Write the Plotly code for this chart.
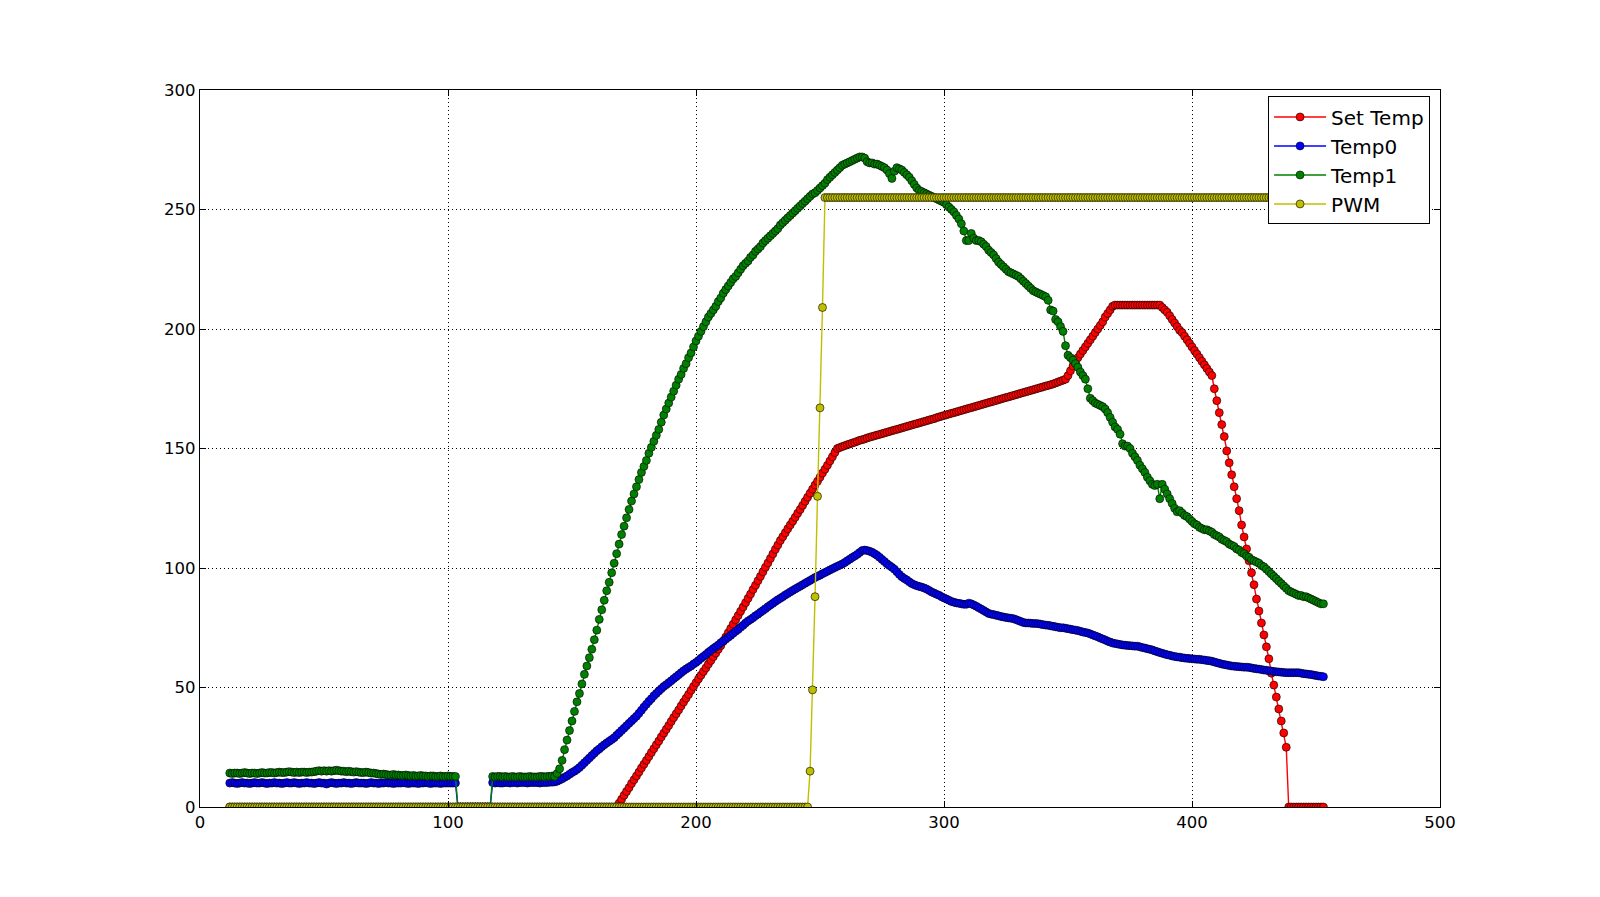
import plotly.graph_objects as go

# ---------------- data ----------------
TIME = list(range(12, 454))  # sample times 12..453

# Set Temp
set_zero_a = [0.0] * 156            # 12..167
set_ramp = [                        # 168..257
    0.0, 1.6, 3.2, 4.9, 6.5, 8.1, 9.8, 11.4, 13.0, 14.6,
    16.3, 17.9, 19.5, 21.1, 22.8, 24.4, 26.0, 27.6, 29.3, 30.9,
    32.5, 34.1, 35.8, 37.4, 39.0, 40.6, 42.3, 43.9, 45.5, 47.1,
    48.8, 50.4, 52.0, 53.6, 55.1, 56.7, 58.2, 59.8, 61.3, 62.9,
    64.4, 66.0, 67.5, 69.3, 71.1, 72.9, 74.7, 76.5, 78.3, 80.1,
    81.9, 83.7, 85.5, 87.3, 89.1, 91.0, 92.8, 94.7, 96.5, 98.4,
    100.3, 102.1, 104.0, 105.9, 107.8, 109.6, 111.5, 113.1, 114.7, 116.4,
    118.0, 119.6, 121.2, 122.9, 124.5, 126.2, 127.9, 129.6, 131.3, 133.0,
    134.7, 136.3, 138.0, 139.7, 141.3, 143.0, 144.8, 146.5, 148.3, 150.0,
]
set_slow = [                        # 258..348
    150.4, 150.8, 151.2, 151.6, 151.9, 152.3, 152.6, 153.0, 153.4, 153.7,
    154.0, 154.4, 154.7, 155.0, 155.3, 155.6, 155.9, 156.2, 156.5, 156.8,
    157.1, 157.4, 157.7, 158.0, 158.3, 158.6, 158.9, 159.2, 159.5, 159.8,
    160.1, 160.4, 160.7, 161.0, 161.3, 161.6, 161.9, 162.2, 162.5, 162.9,
    163.2, 163.5, 163.8, 164.1, 164.4, 164.7, 165.0, 165.3, 165.6, 165.9,
    166.2, 166.5, 166.8, 167.1, 167.4, 167.7, 168.0, 168.3, 168.6, 168.9,
    169.2, 169.5, 169.8, 170.1, 170.4, 170.7, 171.0, 171.3, 171.6, 171.9,
    172.2, 172.5, 172.8, 173.1, 173.4, 173.7, 174.0, 174.3, 174.6, 174.9,
    175.2, 175.5, 175.8, 176.1, 176.4, 176.7, 177.0, 177.4, 177.8, 178.2,
    178.6,
]
set_rise2 = [                       # 349..368
    179.0, 180.5, 182.5, 184.5, 186.0, 188.0, 189.5, 191.0, 192.5, 194.0,
    195.5, 197.0, 198.5, 200.0, 201.5, 203.0, 205.0, 206.5, 208.0, 209.5,
]
set_hold = [210.0] * 19             # 369..387
set_fall1 = [                       # 388..408
    209.0, 208.0, 207.0, 205.5, 204.0, 202.5, 201.0, 199.5, 198.5, 197.0,
    195.5, 194.0, 192.5, 191.0, 189.5, 188.0, 186.5, 185.0, 183.5, 182.0,
    180.5,
]
set_fall2 = [                       # 409..438
    175.0, 170.0, 165.0, 160.0, 155.0, 149.0, 144.0, 139.0, 134.0, 129.0,
    124.0, 118.0, 113.0, 108.0, 103.0, 98.0, 93.0, 87.0, 82.0, 77.0,
    72.0, 67.0, 62.0, 56.0, 51.0, 46.0, 41.0, 36.0, 31.0, 25.0,
]
set_zero_b = [0.0] * 15             # 439..453
SET_TEMP = set_zero_a + set_ramp + set_slow + set_rise2 + set_hold + set_fall1 + set_fall2 + set_zero_b

# Temp0
t0_a = [                            # 12..103
    10.0, 10.2, 10.0, 9.8, 10.0, 10.2, 10.0, 10.0, 9.8, 10.0,
    10.2, 10.0, 10.0, 10.2, 10.0, 9.8, 10.0, 10.0, 10.2, 10.0,
    10.0, 9.8, 10.0, 10.2, 10.0, 10.0, 10.2, 10.0, 9.8, 10.0,
    10.0, 10.2, 10.0, 10.0, 9.8, 10.0, 10.2, 10.0, 10.0, 9.6,
    10.0, 10.2, 10.0, 9.8, 10.0, 10.0, 10.2, 10.0, 10.0, 9.8,
    10.0, 10.2, 10.0, 10.0, 10.0, 9.8, 10.0, 10.2, 10.0, 10.0,
    9.8, 10.0, 10.0, 10.2, 10.0, 10.0, 9.8, 10.0, 10.0, 10.0,
    10.2, 10.0, 9.8, 10.0, 10.0, 10.0, 9.8, 10.0, 10.0, 10.2,
    10.0, 9.8, 10.0, 10.0, 10.0, 9.8, 10.0, 10.0, 10.0, 10.0,
    10.0, 10.0,
]
t0_gap = [0.0] * 14                 # 104..117
t0_b = [                            # 118..142
    10.2, 10.0, 10.2, 10.0, 10.0, 10.2, 10.2, 10.0, 10.2, 10.2,
    10.0, 10.2, 10.2, 10.2, 10.0, 10.2, 10.2, 10.2, 10.2, 10.0,
    10.2, 10.2, 10.2, 10.4, 10.4,
]
t0_c = [                            # 143..453
    10.5, 10.8, 11.3, 11.8, 12.4, 13.0, 13.7, 14.4, 15.0, 15.7,
    16.5, 17.5, 18.5, 19.5, 20.5, 21.5, 22.5, 23.5, 24.3, 25.2,
    26.0, 26.8, 27.5, 28.2, 29.0, 30.0, 31.0, 32.0, 33.0, 34.0,
    35.0, 36.0, 37.0, 38.0, 39.2, 40.5, 41.8, 43.0, 44.2, 45.3,
    46.5, 47.5, 48.5, 49.5, 50.4, 51.2, 52.0, 52.8, 53.7, 54.5,
    55.3, 56.2, 57.0, 57.7, 58.4, 59.0, 59.8, 60.5, 61.3, 62.2,
    63.0, 63.8, 64.7, 65.5, 66.3, 67.0, 67.8, 68.7, 69.5, 70.2,
    71.0, 71.8, 72.7, 73.5, 74.3, 75.2, 76.0, 77.0, 77.8, 78.5,
    79.2, 80.0, 80.7, 81.5, 82.2, 83.0, 83.8, 84.5, 85.2, 86.0,
    86.7, 87.3, 88.0, 88.7, 89.3, 90.0, 90.6, 91.2, 91.8, 92.4,
    93.0, 93.6, 94.2, 94.8, 95.4, 96.0, 96.5, 97.0, 97.6, 98.1,
    98.6, 99.2, 99.7, 100.2, 100.7, 101.2, 101.7, 102.3, 103.0, 103.7,
    104.4, 105.0, 105.7, 106.5, 107.3, 107.5, 107.3, 107.0, 106.6, 106.0,
    105.3, 104.5, 103.6, 102.7, 101.8, 101.0, 100.3, 99.5, 98.4, 97.3,
    96.3, 95.6, 95.0, 94.2, 93.5, 93.0, 92.6, 92.3, 92.0, 91.6,
    91.2, 90.6, 90.0, 89.5, 89.0, 88.6, 88.0, 87.5, 87.0, 86.5,
    86.0, 85.7, 85.4, 85.2, 85.0, 84.8, 84.8, 85.3, 85.0, 84.5,
    84.0, 83.4, 82.8, 82.2, 81.6, 81.0, 80.7, 80.5, 80.2, 80.0,
    79.7, 79.5, 79.3, 79.1, 79.0, 78.8, 78.4, 78.0, 77.6, 77.2,
    77.0, 77.0, 76.9, 76.8, 76.8, 76.7, 76.5, 76.3, 76.1, 76.0,
    75.8, 75.6, 75.4, 75.2, 75.0, 75.0, 74.8, 74.6, 74.4, 74.2,
    74.0, 73.8, 73.5, 73.2, 73.0, 72.8, 72.4, 72.0, 71.6, 71.2,
    70.7, 70.3, 69.9, 69.4, 69.0, 68.6, 68.4, 68.2, 68.0, 67.8,
    67.7, 67.6, 67.5, 67.4, 67.3, 67.3, 67.0, 66.7, 66.5, 66.2,
    66.0, 65.7, 65.3, 65.0, 64.6, 64.3, 64.0, 63.7, 63.5, 63.2,
    63.0, 62.8, 62.7, 62.5, 62.3, 62.2, 62.1, 62.0, 61.9, 61.8,
    61.8, 61.6, 61.5, 61.3, 61.2, 61.0, 60.7, 60.4, 60.1, 59.8,
    59.6, 59.4, 59.2, 59.0, 58.9, 58.8, 58.7, 58.6, 58.5, 58.5,
    58.4, 58.2, 58.0, 57.8, 57.7, 57.5, 57.3, 57.2, 57.0, 56.9,
    56.7, 56.6, 56.5, 56.4, 56.3, 56.2, 56.2, 56.2, 56.2, 56.2,
    56.2, 56.0, 55.8, 55.7, 55.5, 55.4, 55.2, 55.0, 54.8, 54.7,
    54.5,
]
TEMP0 = t0_a + t0_gap + t0_b + t0_c

# Temp1
t1_a = [                            # 12..103
    14.2, 14.0, 14.2, 14.2, 14.0, 14.2, 14.4, 14.2, 14.0, 14.2,
    14.2, 14.0, 14.2, 14.4, 14.2, 14.2, 14.4, 14.4, 14.2, 14.4,
    14.6, 14.4, 14.4, 14.6, 14.8, 14.6, 14.4, 14.6, 14.4, 14.6,
    14.6, 14.4, 14.6, 14.6, 14.8, 15.0, 15.2, 15.0, 15.2, 15.0,
    15.2, 15.0, 15.2, 15.4, 15.2, 15.0, 15.0, 14.8, 15.0, 14.8,
    14.6, 14.8, 14.6, 14.4, 14.4, 14.6, 14.4, 14.2, 14.2, 14.0,
    13.8, 13.6, 13.8, 13.6, 13.4, 13.4, 13.6, 13.4, 13.4, 13.2,
    13.2, 13.4, 13.2, 13.0, 13.2, 13.0, 13.0, 13.2, 13.0, 13.0,
    12.8, 13.0, 13.0, 12.8, 12.8, 13.0, 12.8, 12.8, 13.0, 12.8,
    12.8, 12.8,
]
t1_gap = [0.0] * 14                 # 104..117
t1_b = [                            # 118..142
    12.8, 12.6, 12.8, 12.8, 12.6, 12.8, 12.6, 12.6, 12.8, 12.6,
    12.6, 12.8, 12.6, 12.6, 12.6, 12.8, 12.6, 12.6, 12.6, 12.8,
    12.8, 12.6, 12.8, 12.8, 13.0,
]
t1_c = [                            # 143..453
    12.8, 14.0, 16.0, 19.5, 24.0, 28.0, 32.0, 36.0, 40.0, 44.0,
    47.5, 51.5, 55.5, 59.0, 62.5, 66.0, 70.0, 74.0, 78.5, 82.5,
    86.5, 90.5, 94.0, 98.0, 102.0, 106.0, 110.0, 114.0, 117.5, 121.0,
    124.5, 128.0, 131.0, 134.0, 137.0, 140.0, 142.5, 145.0, 148.0, 150.5,
    153.0, 155.5, 158.0, 161.0, 164.0, 166.5, 169.0, 171.5, 174.0, 176.5,
    179.0, 181.0, 183.5, 185.5, 188.0, 190.0, 192.5, 195.0, 197.0, 199.0,
    201.0, 203.0, 205.0, 206.5, 208.0, 209.5, 211.5, 213.0, 215.0, 216.5,
    218.0, 219.5, 221.0, 222.0, 223.5, 225.0, 226.5, 227.5, 228.5, 230.0,
    231.0, 232.5, 233.5, 234.5, 236.0, 237.0, 238.0, 239.0, 240.0, 241.0,
    242.0, 243.5, 244.5, 245.5, 246.5, 247.5, 248.5, 249.5, 250.5, 251.5,
    252.5, 253.5, 254.5, 255.5, 256.5, 257.0, 258.0, 259.0, 260.0, 261.0,
    262.5, 263.5, 264.5, 265.5, 266.5, 267.5, 268.5, 269.0, 269.5, 270.0,
    270.5, 271.0, 271.5, 272.0, 272.0, 271.5, 270.0, 269.5, 269.5, 269.0,
    269.0, 268.5, 268.0, 267.5, 266.5, 265.0, 263.0, 266.0, 267.5, 267.0,
    266.5, 265.5, 264.5, 263.5, 262.0, 260.5, 259.0, 258.0, 257.5, 257.0,
    256.5, 256.0, 255.5, 255.0, 254.5, 254.0, 253.5, 253.0, 252.0, 251.0,
    250.0, 249.0, 247.5, 246.0, 244.0, 241.0, 237.0, 237.0, 240.0, 238.0,
    237.0, 237.0, 236.5, 235.5, 234.5, 233.0, 232.0, 231.0, 229.5, 228.0,
    227.0, 226.0, 225.0, 224.0, 223.5, 223.0, 222.5, 222.0, 221.0, 220.0,
    219.0, 218.0, 217.0, 216.0, 215.5, 215.0, 214.5, 214.0, 213.5, 212.0,
    208.0, 207.5, 204.0, 203.0, 201.0, 199.0, 193.0, 189.0, 188.0, 187.0,
    185.5, 184.0, 182.0, 180.5, 179.0, 175.0, 171.0, 170.0, 169.0, 168.5,
    168.0, 167.5, 166.5, 165.0, 163.0, 161.0, 159.0, 158.0, 156.0, 152.0,
    151.0, 151.0, 150.0, 148.0, 146.5, 145.0, 143.0, 141.5, 140.0, 138.0,
    136.5, 135.0, 134.5, 135.0, 129.0, 135.0, 133.0, 131.0, 129.0, 127.0,
    125.0, 123.5, 124.0, 123.0, 122.0, 121.5, 120.5, 119.5, 118.5, 118.0,
    117.0, 116.5, 116.0, 116.0, 115.5, 115.0, 114.0, 113.5, 113.0, 112.0,
    111.5, 111.0, 110.0, 109.5, 109.0, 108.0, 107.5, 106.5, 106.0, 105.0,
    104.5, 103.5, 103.0, 102.5, 102.0, 101.0, 100.5, 99.5, 98.5, 97.5,
    96.5, 95.5, 94.5, 93.5, 92.5, 91.5, 90.5, 90.0, 89.5, 89.0,
    88.5, 88.5, 88.0, 88.0, 87.5, 87.0, 86.5, 86.0, 85.5, 85.0,
    85.0,
]
TEMP1 = t1_a + t1_gap + t1_b + t1_c

# PWM
pwm_off = [0.0] * 234               # 12..245
pwm_step = [15.0, 49.0, 88.0, 130.0, 167.0, 209.0]   # 246..251
pwm_on = [255.0] * 202              # 252..453
PWM = pwm_off + pwm_step + pwm_on

SERIES = [
    ("Set Temp", SET_TEMP, "#ff0000"),
    ("Temp0", TEMP0, "#0000ff"),
    ("Temp1", TEMP1, "#008000"),
    ("PWM", PWM, "#bfbf00"),
]

X_TICKS = [0, 100, 200, 300, 400, 500]
Y_TICKS = [0, 50, 100, 150, 200, 250, 300]

# ---------------- figure ----------------
fig = go.Figure()
for name, vals, col in SERIES:
    fig.add_trace(go.Scatter(
        x=TIME, y=vals, name=name, mode="lines+markers",
        line=dict(color=col, width=1.4),
        marker=dict(color=col, size=8, line=dict(color="black", width=0.6)),
    ))

axis_common = dict(
    showline=True, linecolor="black", linewidth=1.3, mirror="allticks",
    ticks="inside", ticklen=6, tickwidth=1, tickcolor="black",
    showgrid=True, gridcolor="black", gridwidth=1, griddash="1px,3px",
    zeroline=False,
    tickfont=dict(family="DejaVu Sans", size=16.5, color="black"),
)
fig.update_xaxes(range=[0, 500], tickmode="array", tickvals=X_TICKS,
                 ticktext=[str(t) for t in X_TICKS], **axis_common)
fig.update_yaxes(range=[0, 300], tickmode="array", tickvals=Y_TICKS,
                 ticktext=[str(t) for t in Y_TICKS], **axis_common)

# the page body has an 8px margin; size the figure so the plot box lands
# where the reference has it (x 200-1440, y 90-807 in the 1600x897 window)
fig.update_layout(
    width=1584, height=881,
    margin=dict(l=192, r=152, t=82, b=82),
    paper_bgcolor="white", plot_bgcolor="white",
    font=dict(family="DejaVu Sans", color="black"),
    showlegend=True,
    legend=dict(
        x=0.992, y=0.991, xanchor="right", yanchor="top",
        bgcolor="white", bordercolor="black", borderwidth=1,
        font=dict(family="DejaVu Sans", size=20, color="black"),
        itemwidth=52,
    ),
)

fig.write_html("out.html")
